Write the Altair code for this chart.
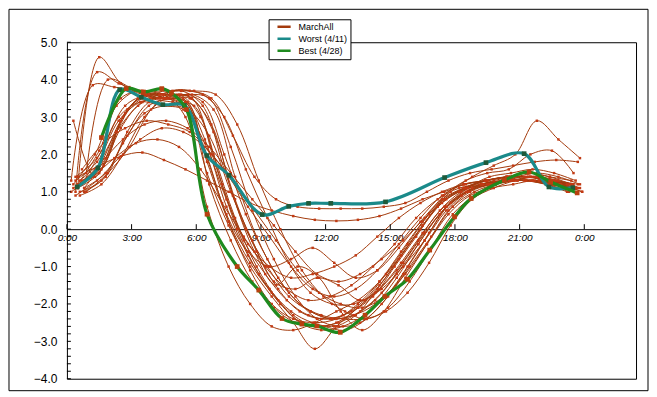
import altair as alt
import numpy as np
import pandas as pd

# ---------------- data ----------------
legend_names = ["MarchAll", "Worst (4/11)", "Best (4/28)"]
line_colors = ["#A33A0C", "#1A8A8A", "#1E8A1E"]

# MarchAll daily curves: first sample hour and hourly values
brown_starts = [0.5, 0.4, 0.2, 0.3, 0.6, 0.5, 0.7, 0.4, 0.8, 0.6, 0.3, 0.9, 0.5,
                0.7, 0.4, 0.6, 0.8, 0.5, 0.3, 0.9, 0.2, 0.7, 0.5, 0.8, 0.4, 0.6]
brown_values = [
    [1.1, 4.6, 3.9, 3.6, 3.5, 3.4, 1.8, 0.2, -0.9, -1.7, -2.3, -2.6, -2.5, -2.1, -1.5, -0.7, 0.1, 0.8, 1.1, 1.3, 1.4, 1.4, 1.3, 1.1],
    [1.0, 4.2, 3.9, 3.7, 3.6, 3.5, 2.4, 0.6, -0.7, -1.6, -2.2, -2.5, -2.6, -2.3, -1.6, -0.8, 0.0, 0.7, 1.1, 1.3, 1.4, 1.5, 1.4, 1.2],
    [1.3, 3.85, 3.8, 3.7, 3.5, 3.6, 3.0, 1.2, -0.3, -1.2, -1.9, -2.3, -2.4, -2.2, -1.8, -1.0, -0.2, 0.6, 1.0, 1.2, 1.3, 1.3, 1.2, 1.0],
    [2.9, 1.4, 2.6, 3.5, 3.6, 3.7, 3.3, 1.6, 0.0, -1.0, -1.8, -2.2, -2.4, -2.3, -1.9, -1.2, -0.4, 0.4, 0.9, 1.2, 1.3, 1.3, 1.2, 1.0],
    [1.3, 1.8, 2.4, 2.8, 2.9, 2.7, 2.2, 1.5, 0.8, 0.1, -0.6, -1.2, -1.4, -1.2, -0.8, -0.3, 0.3, 0.8, 1.1, 1.2, 1.3, 1.3, 1.2, 1.1],
    [1.4, 1.7, 1.95, 2.05, 1.85, 1.6, 1.3, 1.0, 0.7, 0.5, 0.35, 0.25, 0.22, 0.25, 0.35, 0.55, 0.8, 1.0, 1.2, 1.3, 1.4, 1.4, 1.3, 1.2],
    [1.2, 2.2, 3.3, 3.6, 3.7, 3.7, 3.5, 2.5, 1.4, 0.8, 0.6, 0.55, 0.55, 0.55, 0.6, 0.7, 1.0, 1.3, 1.5, 1.6, 1.7, 1.8, 1.85, 1.8],
    [0.9, 1.3, 1.9, 2.4, 2.7, 2.6, 2.2, 1.5, 0.6, -0.2, -1.0, -1.6, -1.8, -1.6, -1.1, -0.4, 0.3, 0.9, 1.2, 1.3, 1.4, 1.4, 1.3, 1.2],
    [1.0, 1.4, 2.6, 3.4, 3.6, 3.5, 2.0, 0.3, -1.0, -1.9, -2.5, -2.7, -2.6, -2.3, -1.8, -1.0, -0.1, 0.7, 1.1, 1.3, 1.4, 1.5, 1.4, 1.2],
    [1.2, 1.6, 3.0, 3.6, 3.5, 3.4, 1.2, -0.3, -1.4, -2.1, -2.5, -2.6, -2.5, -2.2, -1.7, -0.9, -0.1, 0.6, 1.0, 1.2, 1.3, 1.4, 1.3, 1.1],
    [1.2, 2.0, 3.3, 3.7, 3.5, 3.6, 3.4, 2.0, 0.4, -0.8, -1.7, -2.2, -2.4, -2.3, -2.0, -1.3, -0.4, 0.4, 0.9, 1.2, 1.3, 1.3, 1.2, 1.1],
    [1.0, 1.5, 2.2, 3.2, 3.7, 3.7, 3.6, 2.8, 1.3, 0.0, -1.1, -1.8, -2.2, -2.4, -2.1, -1.4, -0.5, 0.4, 0.9, 1.2, 1.3, 1.3, 1.2, 1.0],
    [1.1, 1.5, 2.7, 3.4, 3.5, 3.3, 1.5, 0.1, -1.0, -1.8, -2.5, -3.2, -2.6, -2.1, -1.6, -0.9, -0.1, 0.6, 1.0, 1.2, 1.3, 1.3, 1.2, 1.1],
    [1.3, 1.7, 3.1, 3.6, 3.5, 3.5, 2.8, 0.9, -0.6, -1.5, -1.0, -1.3, -2.2, -2.7, -2.2, -1.3, -0.4, 0.5, 1.0, 1.2, 1.3, 1.4, 1.3, 1.2],
    [1.4, 1.9, 3.0, 3.4, 3.3, 3.2, 2.3, 0.8, -0.4, -1.0, -1.3, -1.2, -1.0, -0.7, -0.2, 0.3, 0.7, 1.0, 1.2, 1.3, 1.4, 1.5, 1.4, 1.3],
    [1.0, 1.3, 2.3, 3.1, 3.3, 3.2, 2.5, 1.0, -0.3, -1.4, -1.6, -1.3, -1.5, -1.9, -1.6, -1.0, -0.3, 0.5, 1.0, 1.2, 1.3, 1.3, 1.2, 1.1],
    [1.1, 1.9, 3.2, 3.6, 3.6, 3.5, 2.6, 0.8, -0.6, -1.6, -2.2, -2.4, -2.3, -1.9, -1.2, -0.4, 0.4, 1.0, 1.4, 1.7, 2.0, 2.9, 2.4, 1.9],
    [1.2, 1.7, 2.9, 3.5, 3.6, 3.4, 1.9, 0.2, -1.1, -2.0, -2.4, -2.5, -2.4, -2.0, -1.4, -0.6, 0.2, 0.9, 1.3, 1.5, 1.6, 2.0, 2.1, 1.5],
    [1.1, 1.6, 2.6, 3.3, 3.6, 3.7, 3.6, 3.0, 1.6, 0.3, -0.9, -1.7, -2.0, -2.0, -1.7, -1.1, -0.3, 0.5, 1.0, 1.2, 1.3, 1.4, 1.3, 1.2],
    [1.5, 4.0, 3.8, 3.5, 3.4, 3.3, 1.7, 0.0, -1.2, -2.0, -2.5, -2.6, -2.7, -2.4, -1.8, -1.0, -0.2, 0.6, 1.0, 1.2, 1.3, 1.3, 1.2, 1.0],
    [1.0, 1.4, 1.9, 2.3, 2.4, 2.2, 1.6, 0.7, -0.2, -1.0, -1.6, -1.9, -1.8, -1.5, -1.0, -0.4, 0.3, 0.8, 1.1, 1.2, 1.3, 1.4, 1.3, 1.2],
    [1.6, 2.3, 2.7, 2.9, 2.8, 2.6, 2.0, 1.3, 0.5, -0.3, -1.1, -1.7, -2.0, -2.1, -1.8, -1.2, -0.4, 0.4, 0.9, 1.1, 1.2, 1.3, 1.2, 1.1],
    [1.2, 2.1, 3.5, 3.7, 3.6, 3.0, 0.6, -1.0, -2.0, -2.6, -2.7, -2.5, -2.2, -1.9, -1.4, -0.7, 0.1, 0.8, 1.1, 1.3, 1.4, 1.4, 1.3, 1.1],
    [1.1, 1.5, 2.5, 3.3, 3.5, 3.6, 3.2, 1.4, -0.2, -1.3, -2.0, -2.3, -2.4, -2.4, -2.2, -1.7, -0.9, 0.1, 0.8, 1.1, 1.3, 1.4, 1.3, 1.1],
    [1.3, 1.8, 2.9, 3.4, 3.5, 3.3, 2.1, 0.4, -0.6, -1.0, -0.8, -0.5, -0.9, -1.3, -1.1, -0.5, 0.2, 0.8, 1.1, 1.3, 1.4, 1.4, 1.3, 1.2],
    [0.9, 1.2, 2.0, 3.0, 3.5, 3.6, 3.5, 2.2, 0.5, -0.8, -1.8, -2.4, -2.6, -2.5, -2.0, -1.2, -0.3, 0.6, 1.1, 1.4, 1.5, 1.6, 1.5, 1.3],
]

worst_hours = [0.48, 1.44, 2.45, 3.45, 4.45, 5.45, 6.49, 7.52, 9.06, 10.29, 11.21,
               12.24, 14.78, 17.52, 19.44, 21.21, 22.36, 23.47]
worst_values = [1.13, 1.64, 3.73, 3.53, 3.33, 3.31, 1.97, 1.44, 0.39, 0.61, 0.69,
                0.69, 0.73, 1.38, 1.78, 2.02, 1.13, 1.11]

best_hours = [1.6, 2.75, 3.55, 4.4, 4.85, 5.55, 6.5, 7.9, 8.9, 9.98, 10.9, 11.6,
              12.68, 13.83, 14.75, 15.8, 16.83, 17.98, 18.75, 20.29, 21.44, 22.44, 23.67]
best_values = [2.45, 3.76, 3.67, 3.76, 3.64, 3.2, 0.4, -1.0, -1.63, -2.39, -2.54, -2.59,
               -2.76, -2.30, -1.80, -1.34, -0.56, 0.33, 0.82, 1.31, 1.53, 1.26, 0.97]

x_tick_hours = [0, 3, 6, 9, 12, 15, 18, 21, 24]
y_tick_values = [-4, -3, -2, -1, 0, 1, 2, 3, 4, 5]

# ---------------- tables ----------------
rows = []
for k, (s, vals) in enumerate(zip(brown_starts, brown_values)):
    for i, v in enumerate(vals):
        rows.append({"series": f"m{k}", "group": legend_names[0], "hour": s + i, "value": v, "order": i})
brown_df = pd.DataFrame(rows)
worst_df = pd.DataFrame({"hour": worst_hours, "value": worst_values, "group": legend_names[1],
                         "order": range(len(worst_hours))})
best_df = pd.DataFrame({"hour": best_hours, "value": best_values, "group": legend_names[2],
                        "order": range(len(best_hours))})

W, H = 570, 337
ZERO_Y = H * 5 / 9
xscale = alt.Scale(domain=[0, 26.4], nice=False, zero=False)
yscale = alt.Scale(domain=[-4, 5], nice=False)
cscale = alt.Scale(domain=legend_names, range=line_colors)

x_axis = alt.Axis(values=x_tick_hours, ticks=False, grid=False, domain=True, domainColor="black",
                  domainWidth=1, offset=-(H - ZERO_Y),
                  labelExpr="datum.value == 24 ? '0:00' : datum.value + ':00'",
                  labelFont="Liberation Sans", labelFontStyle="italic", labelFontSize=10,
                  labelColor="black", labelPadding=3, title=None, labelFlush=False)
y_axis = alt.Axis(values=y_tick_values, format=".1f", ticks=False, grid=False, domain=False,
                  labelFont="Liberation Sans", labelFontSize=12, labelColor="black",
                  labelPadding=10, title=None)


def X(field="hour"):
    return alt.X(f"{field}:Q", scale=xscale, axis=x_axis, title=None)


def Y(field="value"):
    return alt.Y(f"{field}:Q", scale=yscale, axis=y_axis, title=None)


legend = alt.Legend(title=None, orient="none", legendX=202, legendY=-23,
                    symbolType="M-2.2,0L2.2,0", symbolSize=36, symbolStrokeWidth=2.5,
                    labelFont="Liberation Sans", labelFontSize=9, labelColor="black",
                    strokeColor="black", fillColor="white", padding=3, rowPadding=1,
                    labelOffset=10, symbolOffset=8, labelLimit=80)

brown_lines = alt.Chart(brown_df).mark_line(interpolate="catmull-rom", strokeWidth=1).encode(
    x=X(), y=Y(), detail="series:N", order="order:Q",
    color=alt.Color("group:N", scale=cscale, legend=legend))
brown_pts = alt.Chart(brown_df).mark_point(shape="square", filled=True, size=6,
                                           color="#C23A14", opacity=1).encode(x=X(), y=Y())

worst_line = alt.Chart(worst_df).mark_line(interpolate="catmull-rom", strokeWidth=3.2).encode(
    x=X(), y=Y(), order="order:Q", color=alt.Color("group:N", scale=cscale, legend=legend))
worst_pts = alt.Chart(worst_df).mark_point(shape="square", filled=True, size=22,
                                           color="#1F5A3A", opacity=1).encode(x=X(), y=Y())

best_line = alt.Chart(best_df).mark_line(interpolate="catmull-rom", strokeWidth=3.2).encode(
    x=X(), y=Y(), order="order:Q", color=alt.Color("group:N", scale=cscale, legend=legend))
best_pts = alt.Chart(best_df).mark_point(shape="square", filled=True, size=22,
                                         color="#B8400F", opacity=1).encode(x=X(), y=Y())

# decorations: inner minor ticks on the y axis and upward ticks on the zero line
minor_df = pd.DataFrame({"value": np.round(np.arange(-4.0, 5.01, 0.2), 2)})
minor_ticks = alt.Chart(minor_df).mark_rule(color="black", strokeWidth=1).encode(
    y=Y(), x=alt.value(0), x2=alt.value(4))
xt_df = pd.DataFrame({"hour": x_tick_hours})
x_ticks = alt.Chart(xt_df).mark_rule(color="black", strokeWidth=1).encode(
    x=X(), y=alt.value(ZERO_Y), y2=alt.value(ZERO_Y - 5))
frame = alt.Chart(pd.DataFrame({"a": [0]})).mark_rect(filled=False, stroke="black", strokeWidth=1).encode(
    x=alt.value(-58), x2=alt.value(582), y=alt.value(-33), y2=alt.value(349))

chart = alt.layer(
    brown_lines, brown_pts, worst_line, worst_pts, best_line, best_pts, minor_ticks, x_ticks, frame
).resolve_scale(color="shared").properties(
    width=W, height=H, autosize="none",
    padding={"left": 59, "top": 34, "right": 13, "bottom": 13},
    background="white",
).configure_view(stroke="black", strokeWidth=1)

chart.save("out.html", embed_options={"renderer": "svg", "actions": False})
